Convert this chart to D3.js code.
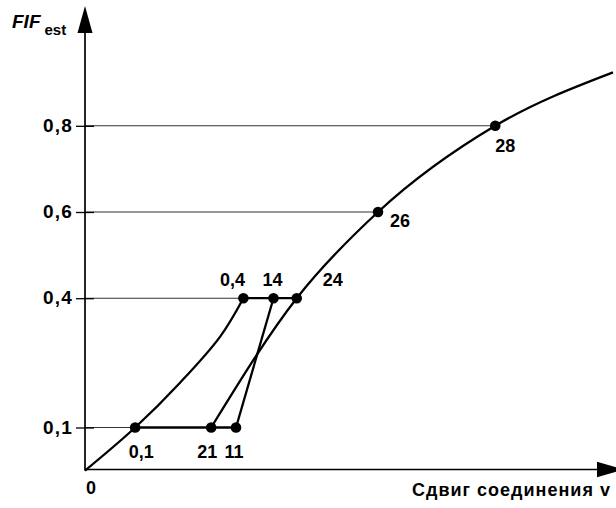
<!DOCTYPE html>
<html>
<head>
<meta charset="utf-8">
<script src="https://cdn.jsdelivr.net/npm/d3@7"></script>
<style>
  html, body { margin: 0; padding: 0; background: #fff; }
  svg { display: block; font-family: Arial, "Liberation Sans", Helvetica, sans-serif; }
</style>
</head>
<body>
<svg id="chart" width="616" height="508"></svg>
<script>
// ---- data ----
const yTickValues = [0.1, 0.4, 0.6, 0.8];
const xTickValues = [0];
const xAxisTitle = "Сдвиг соединения v";
const yAxisTitle = "FIF";
const yAxisSub = "est";

// loading branch from origin through 0,1 to 0,4
const curveLoad = [[0, 0], [9.5, 0.1], [18, 0.204], [25.6, 0.311], [30, 0.4]];
// main branch 21 -> 24 -> 26 -> 28 -> end
const curveMain = [[23.9, 0.1], [40.1, 0.4], [55.5, 0.6], [77.7, 0.8], [100, 0.924]];
// straight branch 11 -> 14
const curveStraight = [[28.6, 0.1], [35.7, 0.4]];
// thick horizontal segments
const segLow = [[9.5, 0.1], [28.6, 0.1]];
const segHigh = [[30, 0.4], [40.1, 0.4]];
// guide lines from y axis to points
const guideEnds = [[9.5, 0.1], [30, 0.4], [55.5, 0.6], [77.7, 0.8]];
// marked points and their labels
const pointLabels = ["0,1", "21", "11", "0,4", "14", "24", "26", "28"];
const pointX = [9.5, 23.9, 28.6, 30, 35.7, 40.1, 55.5, 77.7];
const pointY = [0.1, 0.1, 0.1, 0.4, 0.4, 0.4, 0.6, 0.8];

// ---- layout (presentation only) ----
const labelOffsets = {
  "0,1": [6, 30, "middle"], "21": [-4, 30, "middle"], "11": [-2, 30, "middle"],
  "0,4": [-11, -12, "middle"], "14": [-1, -12, "middle"], "24": [26, -12, "start"],
  "26": [12, 15, "start"], "28": [0, 26, "start"]
};

const svg = d3.select("#chart");
const x = d3.scaleLinear().domain([0, 100]).range([85, 613]);
const y = d3.scaleLinear().domain([0.1, 0.8]).range([427.5, 125.8]);
const y0 = 469.5;

// guide lines (thin)
svg.append("g").selectAll("line").data(guideEnds).join("line")
  .attr("x1", x(0)).attr("x2", d => x(d[0]))
  .attr("y1", d => y(d[1])).attr("y2", d => y(d[1]))
  .attr("stroke", "#333").attr("stroke-width", 1.1);

// y axis with ticks
const yAxis = d3.axisLeft(y).tickValues(yTickValues).tickSize(9).tickPadding(3)
  .tickFormat(d => d3.format(".1f")(d).replace(".", ","));
const gy = svg.append("g").attr("transform", `translate(${x(0)},0)`).call(yAxis);
gy.select(".domain").remove();
gy.selectAll(".tick line").attr("x2", 9).attr("x1", -9).attr("stroke", "#000").attr("stroke-width", 1.3);
gy.selectAll(".tick text")
  .attr("font-size", 19).attr("font-weight", "bold").attr("letter-spacing", "1.2px")
  .attr("fill", "#000").attr("dy", "0.3em").attr("x", -12);

// axis lines with arrowheads
svg.append("line").attr("x1", x(0)).attr("x2", x(0)).attr("y1", y0 + 1).attr("y2", 30)
  .attr("stroke", "#000").attr("stroke-width", 1.7);
svg.append("path").attr("d", `M${x(0)},6 L${x(0) - 7.5},33 L${x(0) + 7.5},33 Z`).attr("fill", "#000");
svg.append("line").attr("x1", x(0)).attr("x2", 600).attr("y1", y0).attr("y2", y0)
  .attr("stroke", "#000").attr("stroke-width", 1.7);
svg.append("path").attr("d", `M624,${y0} L597,${y0 - 7.8} L597,${y0 + 7.8} Z`).attr("fill", "#000");

// x tick label "0"
svg.append("g").selectAll("text").data(xTickValues).join("text")
  .attr("x", d => x(d) + 6).attr("y", 494)
  .attr("text-anchor", "middle").attr("font-size", 18).attr("font-weight", "bold")
  .text(d => d);

// axis titles
svg.append("text").attr("x", 412).attr("y", 496)
  .attr("font-size", 18).attr("font-weight", "bold").attr("letter-spacing", "1px")
  .text(xAxisTitle);
const yt = svg.append("text").attr("x", 12).attr("y", 27.5)
  .attr("font-size", 19).attr("font-weight", "bold").attr("font-style", "italic");
yt.append("tspan").text(yAxisTitle);
yt.append("tspan").attr("dx", 4).attr("dy", 7.5).attr("font-size", 15).attr("font-style", "normal").text(yAxisSub);

// curves
const smooth = d3.line().x(d => x(d[0])).y(d => y(d[1])).curve(d3.curveCatmullRom.alpha(0.5));
const mono = d3.line().x(d => x(d[0])).y(d => y(d[1])).curve(d3.curveMonotoneX);
const straight = d3.line().x(d => x(d[0])).y(d => y(d[1]));
const curveG = svg.append("g").attr("fill", "none").attr("stroke", "#000").attr("stroke-width", 2.3)
  .attr("stroke-linejoin", "round");
curveG.append("path").attr("d", smooth(curveLoad));
curveG.append("path").attr("d", mono(curveMain));
curveG.append("path").attr("d", straight(curveStraight));
curveG.append("path").attr("d", straight(segLow));
curveG.append("path").attr("d", straight(segHigh));

// points
const pts = pointLabels.map((l, i) => ({ label: l, x: pointX[i], y: pointY[i] }));
svg.append("g").selectAll("circle").data(pts).join("circle")
  .attr("cx", d => x(d.x)).attr("cy", d => y(d.y)).attr("r", 5.3).attr("fill", "#000");
svg.append("g").selectAll("text").data(pts).join("text")
  .attr("x", d => x(d.x) + labelOffsets[d.label][0])
  .attr("y", d => y(d.y) + labelOffsets[d.label][1])
  .attr("text-anchor", d => labelOffsets[d.label][2])
  .attr("font-size", 18).attr("font-weight", "bold").attr("fill", "#000")
  .text(d => d.label);
</script>
</body>
</html>
